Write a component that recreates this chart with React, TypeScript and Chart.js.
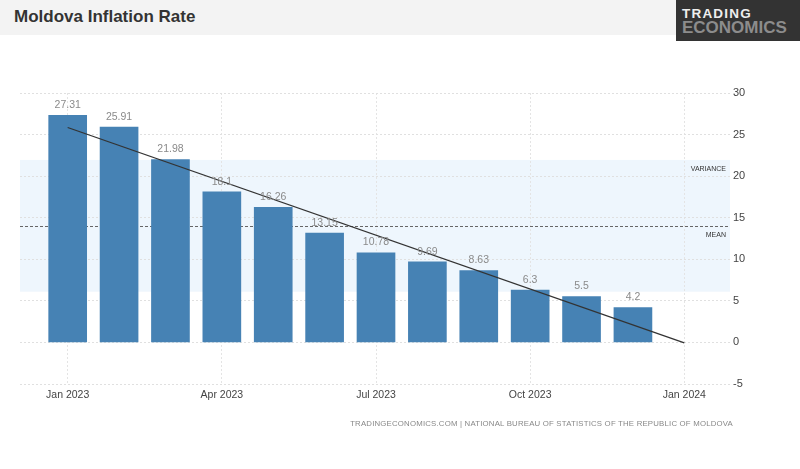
import React, { useEffect, useRef } from "react";
import { Chart, registerables } from "chart.js";

Chart.register(...registerables);

const categories = ["Jan 2023", "Feb 2023", "Mar 2023", "Apr 2023", "May 2023", "Jun 2023", "Jul 2023", "Aug 2023", "Sep 2023", "Oct 2023", "Nov 2023", "Dec 2023"];
const monthOffsets = [0, 1, 2, 3, 4, 5, 6, 7, 8, 9, 10, 11];
const inflation = [27.31, 25.91, 21.98, 18.1, 16.26, 13.15, 10.78, 9.69, 8.63, 6.3, 5.5, 4.2];
const xTickValues = [0, 3, 6, 9, 12];
const xTickLabels = ["Jan 2023", "Apr 2023", "Jul 2023", "Oct 2023", "Jan 2024"];
const yTickValues = [-5, 0, 5, 10, 15, 20, 25, 30];
const trendX = [0, 12];
const trendY = [25.85, -0.05];
const meanValue = 13.98;
const varianceLow = 6.1;
const varianceHigh = 21.95;

const FONT = "'Liberation Sans', Arial, sans-serif";

const overlayPlugin = {
  id: "overlay",
  beforeDraw(chart: any) {
    const { ctx, chartArea, scales } = chart;
    const y = scales.y;
    const top = y.getPixelForValue(varianceHigh);
    const bottom = y.getPixelForValue(varianceLow);
    ctx.save();
    ctx.fillStyle = "#eef6fd";
    ctx.fillRect(chartArea.left, top, chartArea.right - chartArea.left, bottom - top);
    ctx.restore();
  },
  beforeDatasetsDraw(chart: any) {
    const { ctx, chartArea, scales } = chart;
    const y = scales.y;
    const my = Math.round(y.getPixelForValue(meanValue)) + 0.5;
    ctx.save();
    ctx.strokeStyle = "#666";
    ctx.lineWidth = 1;
    ctx.setLineDash([3, 2]);
    ctx.beginPath();
    ctx.moveTo(chartArea.left, my);
    ctx.lineTo(chartArea.right, my);
    ctx.stroke();
    ctx.setLineDash([]);
    ctx.fillStyle = "#333";
    ctx.font = "7px " + FONT;
    ctx.textAlign = "right";
    ctx.textBaseline = "middle";
    ctx.fillText("VARIANCE", chartArea.right - 4, y.getPixelForValue(varianceHigh) + 9);
    ctx.fillText("MEAN", chartArea.right - 4, my + 9);
    ctx.restore();
  },
  afterDatasetsDraw(chart: any) {
    const { ctx } = chart;
    const meta = chart.getDatasetMeta(0);
    ctx.save();
    ctx.fillStyle = "#8a8a8a";
    ctx.font = "10.5px " + FONT;
    ctx.textAlign = "center";
    ctx.textBaseline = "bottom";
    meta.data.forEach((el: any, i: number) => {
      ctx.fillText(String(inflation[i]), el.x, el.y - 5);
    });
    ctx.restore();
  },
};

export default function App() {
  const ref = useRef<HTMLCanvasElement | null>(null);
  useEffect(() => {
    if (!ref.current) return;
    const chart = new Chart(ref.current, {
      type: "bar",
      data: {
        datasets: [
          {
            type: "bar",
            label: "Inflation Rate",
            data: monthOffsets.map((m, i) => ({ x: m, y: inflation[i] })),
            backgroundColor: "#4682b4",
            barThickness: 38,
            order: 2,
          } as any,
          {
            type: "line",
            label: "Trend",
            data: trendX.map((m, i) => ({ x: m, y: trendY[i] })),
            borderColor: "#333",
            borderWidth: 1.3,
            pointRadius: 0,
            fill: false,
            order: 1,
          } as any,
        ],
      },
      options: {
        animation: false,
        responsive: false,
        layout: { padding: { left: 20, top: 93, right: 0, bottom: 0 } },
        plugins: { legend: { display: false }, tooltip: { enabled: false } },
        scales: {
          x: {
            type: "linear",
            min: -0.928,
            max: 12.889,
            offset: false,
            afterFit(scale: any) {
              scale.height = 85;
            },
            afterBuildTicks(scale: any) {
              scale.ticks = xTickValues.map((v) => ({ value: v }));
            },
            ticks: {
              padding: 5,
              color: "#444",
              font: { family: FONT, size: 10.5 },
              maxRotation: 0,
              autoSkip: false,
              callback: (v: any) => {
                const idx = xTickValues.indexOf(Number(v));
                return idx >= 0 ? xTickLabels[idx] : "";
              },
            },
            grid: { color: "#e4e4e4", drawTicks: false, offset: false },
            border: { display: false, dash: [2, 2] },
          },
          y: {
            position: "right",
            min: -5,
            max: 30,
            afterFit(scale: any) {
              scale.width = 70;
            },
            afterBuildTicks(scale: any) {
              scale.ticks = yTickValues.map((v) => ({ value: v }));
            },
            ticks: {
              padding: 3,
              color: "#444",
              font: { family: FONT, size: 11 },
            },
            grid: { color: "#e0e0e0", drawTicks: false },
            border: { display: false, dash: [2, 2] },
          },
        },
      },
      plugins: [overlayPlugin],
    } as any);
    return () => chart.destroy();
  }, []);

  return (
    <div style={{ position: "fixed", left: 0, top: 0, width: 800, height: 469, background: "#fff", overflow: "hidden", fontFamily: FONT }}>
      <div style={{ position: "absolute", left: 0, top: 0, width: 800, height: 35, background: "#f3f3f3" }} />
      <div style={{ position: "absolute", left: 14, top: 7, fontSize: 17, fontWeight: "bold", color: "#333", lineHeight: "20px", whiteSpace: "nowrap" }}>
        Moldova Inflation Rate
      </div>
      <div style={{ position: "absolute", left: 676, top: 0, width: 124, height: 41, background: "#333" }}>
        <div style={{ position: "absolute", left: 6, top: 6, fontSize: 13.5, fontWeight: "bold", color: "#eee", letterSpacing: 1.2, lineHeight: "16px", whiteSpace: "nowrap" }}>
          TRADING
        </div>
        <div style={{ position: "absolute", left: 6, top: 18, fontSize: 17, fontWeight: "bold", color: "#8c8c8c", lineHeight: "20px", whiteSpace: "nowrap" }}>
          ECONOMICS
        </div>
      </div>
      <canvas ref={ref} width={800} height={469} style={{ position: "absolute", left: 0, top: 0, width: 800, height: 469 }} />
      <div style={{ position: "absolute", right: 67, top: 419, fontSize: 7.8, letterSpacing: 0.2, color: "#888", whiteSpace: "nowrap", lineHeight: "10px" }}>
        TRADINGECONOMICS.COM | NATIONAL BUREAU OF STATISTICS OF THE REPUBLIC OF MOLDOVA
      </div>
    </div>
  );
}
